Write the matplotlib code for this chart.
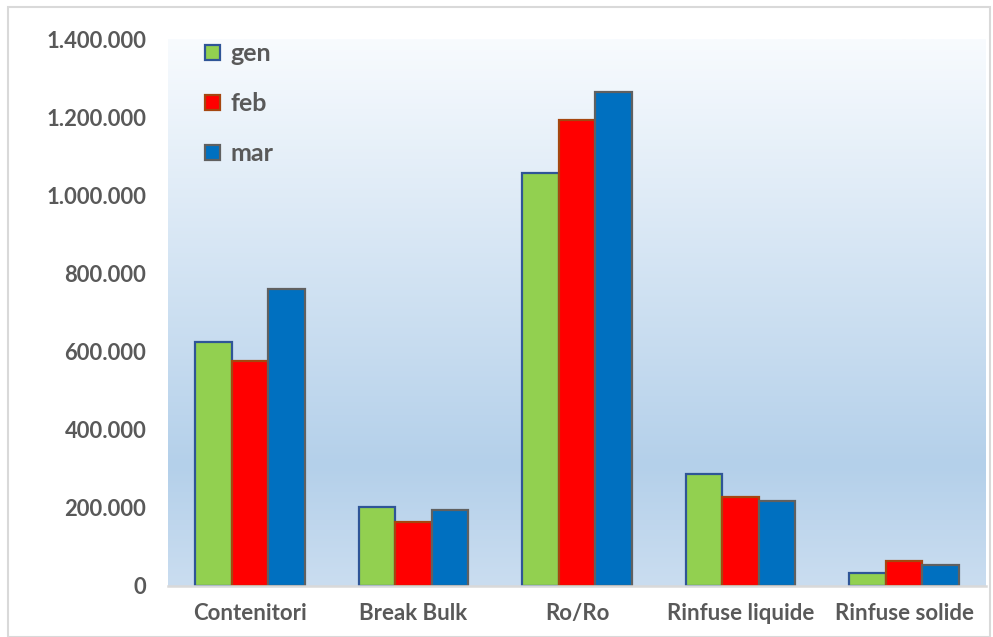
import numpy as np
import matplotlib.pyplot as plt
from matplotlib.colors import LinearSegmentedColormap
from matplotlib.patches import Patch, Rectangle
from matplotlib.ticker import FuncFormatter

categories = ["Contenitori", "Break Bulk", "Ro/Ro", "Rinfuse liquide", "Rinfuse solide"]
months = ["gen", "feb", "mar"]
gen = [625000, 202000, 1056000, 287000, 34000]
feb = [577000, 165000, 1192000, 227000, 65000]
mar = [761000, 195000, 1264000, 217000, 55000]

face_colors = ["#92D050", "#FF0000", "#0070C0"]
edge_colors = ["#2F5597", "#A5460F", "#606060"]
text_color = "#595959"

plt.rcParams['font.family'] = ['Lato', 'DejaVu Sans']
plt.rcParams['font.weight'] = 'bold'


def thousands(v, pos):
    return f"{int(v):,}".replace(",", ".")


def main():
    fig = plt.figure(figsize=(9.93, 6.37), dpi=100)
    ax = fig.add_axes([168 / 993, 51 / 637, 818 / 993, 547 / 637])

    # outer chart frame
    fig.patches.append(Rectangle((8 / 993, 0), 982 / 993, 630 / 637,
                                 transform=fig.transFigure, fill=False,
                                 edgecolor="#D9D9D9", lw=1.5))

    # gradient plot area
    cmap = LinearSegmentedColormap.from_list(
        "bg", [(0.0, "#F8FBFE"), (0.78, "#B4D0EA"), (1.0, "#CADDF0")])
    grad = np.linspace(0, 1, 256).reshape(-1, 1)
    ax.imshow(grad, cmap=cmap, aspect="auto", extent=[-0.5, 4.5, 0, 1.4e6],
              origin="upper", zorder=0)

    x = np.arange(len(categories))
    w = 0.223
    series = [gen, feb, mar]
    for i, vals in enumerate(series):
        ax.bar(x + (i - 1) * w, vals, w, color=face_colors[i],
               edgecolor=edge_colors[i], linewidth=1.6, zorder=2)

    ax.set_xlim(-0.5, 4.5)
    ax.set_ylim(0, 1.4e6)
    ax.set_yticks(np.arange(0, 1400001, 200000))
    ax.yaxis.set_major_formatter(FuncFormatter(thousands))
    ax.set_xticks(x)
    ax.set_xticklabels(categories)
    ax.tick_params(axis="both", length=0, colors=text_color)
    ax.tick_params(axis="y", pad=15.5, labelsize=15.8)
    ax.tick_params(axis="x", pad=12, labelsize=16)

    for s in ["top", "right", "left"]:
        ax.spines[s].set_visible(False)
    ax.spines["bottom"].set_color("#D9D9D9")
    ax.spines["bottom"].set_linewidth(1.8)
    ax.spines["bottom"].set_zorder(3)

    handles = [Patch(facecolor=face_colors[i], edgecolor=edge_colors[i], lw=1.6)
               for i in range(3)]
    leg = ax.legend(handles, months, loc="upper left",
                    bbox_to_anchor=(0.018, 1.035), frameon=False,
                    fontsize=18, handlelength=0.6, handleheight=0.6,
                    handletextpad=0.4, labelspacing=1.08)
    for t in leg.get_texts():
        t.set_color(text_color)

    fig.savefig("out.png", dpi=100)


if __name__ == "__main__":
    main()
